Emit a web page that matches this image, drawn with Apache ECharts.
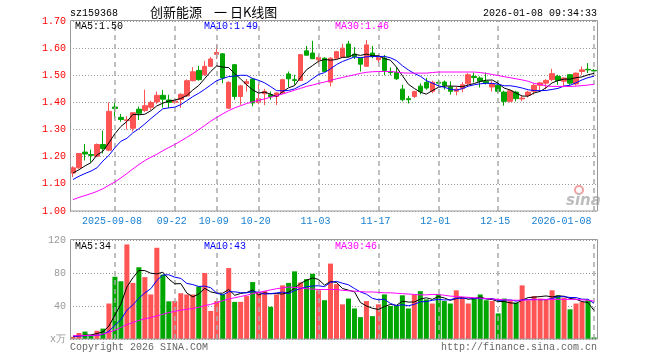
<!DOCTYPE html>
<html><head><meta charset="utf-8">
<script src="https://cdn.jsdelivr.net/npm/echarts@6/dist/echarts.min.js"></script>
<style>html,body{margin:0;padding:0;background:#fff}#c{width:660px;height:360px}</style>
</head><body><div id="c"></div>
<script>
const dates = ['2025-08-28','2025-08-29',
'2025-09-01','2025-09-02','2025-09-03','2025-09-04','2025-09-05','2025-09-08','2025-09-09','2025-09-10','2025-09-11','2025-09-12',
'2025-09-15','2025-09-16','2025-09-17','2025-09-18','2025-09-19','2025-09-22','2025-09-23','2025-09-24','2025-09-25','2025-09-26','2025-09-29','2025-09-30',
'2025-10-09','2025-10-10','2025-10-13','2025-10-14','2025-10-15','2025-10-16','2025-10-17','2025-10-20','2025-10-21','2025-10-22','2025-10-23','2025-10-24',
'2025-10-27','2025-10-28','2025-10-29','2025-10-30','2025-10-31',
'2025-11-03','2025-11-04','2025-11-05','2025-11-06','2025-11-07','2025-11-10','2025-11-11','2025-11-12','2025-11-13','2025-11-14',
'2025-11-17','2025-11-18','2025-11-19','2025-11-20','2025-11-21','2025-11-24','2025-11-25','2025-11-26','2025-11-27','2025-11-28',
'2025-12-01','2025-12-02','2025-12-03','2025-12-04','2025-12-05','2025-12-08','2025-12-09','2025-12-10','2025-12-11','2025-12-12',
'2025-12-15','2025-12-16','2025-12-17','2025-12-18','2025-12-19','2025-12-22','2025-12-23','2025-12-24','2025-12-25','2025-12-26',
'2025-12-29','2025-12-30','2025-12-31','2026-01-05','2026-01-06','2026-01-07','2026-01-08'];

const open = [1.140,1.159,1.217,1.208,1.202,1.245,1.224,1.383,1.345,1.333,
1.305,1.375,1.370,1.382,1.402,1.426,1.409,1.400,1.411,1.424,
1.480,1.518,1.502,1.533,1.577,1.579,1.379,1.539,1.422,1.469,
1.486,1.400,1.432,1.428,1.422,1.435,1.505,1.484,1.481,1.590,
1.582,1.557,1.563,1.475,1.563,1.567,1.615,1.578,1.563,1.533,
1.582,1.557,1.563,1.514,1.510,1.449,1.414,1.422,1.460,1.474,
1.441,1.474,1.475,1.457,1.441,1.451,1.469,1.496,1.490,1.478,
1.457,1.463,1.438,1.404,1.438,1.413,1.426,1.441,1.463,1.471,
1.484,1.496,1.478,1.502,1.468,1.514,1.522,1.518];
const close = [1.159,1.212,1.210,1.205,1.245,1.230,1.367,1.378,1.337,1.336,
1.362,1.360,1.388,1.400,1.426,1.412,1.400,1.405,1.430,1.480,
1.513,1.484,1.533,1.560,1.584,1.490,1.474,1.422,1.461,1.477,
1.398,1.414,1.441,1.422,1.435,1.484,1.487,1.481,1.576,1.574,
1.561,1.566,1.514,1.563,1.587,1.600,1.569,1.569,1.541,1.612,
1.569,1.569,1.518,1.510,1.487,1.410,1.410,1.440,1.440,1.453,
1.474,1.471,1.463,1.441,1.449,1.465,1.502,1.492,1.478,1.472,
1.469,1.441,1.404,1.443,1.414,1.416,1.438,1.463,1.472,1.481,
1.506,1.481,1.490,1.471,1.508,1.520,1.520,1.516];
const high = [1.165,1.213,1.247,1.226,1.249,1.296,1.400,1.400,1.358,1.350,
1.365,1.385,1.447,1.406,1.440,1.446,1.428,1.410,1.434,1.485,
1.530,1.535,1.553,1.567,1.612,1.582,1.478,1.541,1.465,1.486,
1.490,1.470,1.450,1.440,1.437,1.487,1.514,1.502,1.578,1.608,
1.627,1.575,1.566,1.566,1.590,1.616,1.627,1.604,1.566,1.630,
1.608,1.575,1.575,1.529,1.530,1.465,1.424,1.443,1.470,1.490,
1.480,1.484,1.481,1.478,1.457,1.474,1.508,1.510,1.496,1.510,
1.478,1.481,1.443,1.447,1.443,1.425,1.443,1.469,1.476,1.486,
1.524,1.502,1.492,1.505,1.510,1.533,1.545,1.523];
const low = [1.125,1.156,1.186,1.180,1.198,1.212,1.220,1.340,1.329,1.300,
1.293,1.335,1.365,1.372,1.394,1.381,1.380,1.395,1.380,1.420,
1.478,1.480,1.498,1.531,1.560,1.471,1.376,1.410,1.391,1.440,
1.386,1.393,1.390,1.410,1.390,1.431,1.457,1.465,1.480,1.573,
1.560,1.541,1.512,1.459,1.560,1.566,1.567,1.560,1.514,1.531,
1.563,1.545,1.500,1.500,1.483,1.404,1.396,1.416,1.430,1.447,
1.434,1.459,1.447,1.429,1.426,1.438,1.460,1.474,1.455,1.466,
1.440,1.435,1.388,1.400,1.404,1.404,1.418,1.429,1.441,1.450,
1.478,1.465,1.459,1.465,1.462,1.502,1.508,1.507];
const volume = [2.5,7.3,9,4,10,12.6,43,75.5,70,114.6,
68,87,75,54,110.6,78,45.7,46,55.5,54,
54,63.6,80,34,46,54,86,45,45,52,
69,56,58,39,54,65,68,82,68.5,72.6,
79,59,47,91.4,66.5,42,49,37,26.5,46,
27.7,42,54,40,40,53,37,54,58,48,
43,54,46,43,59,50,43,49,54,47,
46,31,49,46,44,65,47,52,49,48,
59,53,50,36,43,45,47,2];

const priceMA5Head = [1.140,1.152,1.166,1.178];
const priceMA10Head = [1.116,1.128,1.138,1.147,1.159,1.184,1.205,1.233,1.257];
const priceMA30 = [1.042,1.050,1.057,1.064,1.072,1.082,1.095,1.107,1.122,1.138,
1.155,1.171,1.186,1.198,1.209,1.222,1.234,1.245,1.258,1.271,
1.285,1.300,1.315,1.331,1.345,1.358,1.370,1.380,1.388,1.396,
1.402,1.408,1.413,1.419,1.425,1.431,1.438,1.445,1.452,1.459,
1.464,1.470,1.475,1.481,1.487,1.492,1.497,1.502,1.507,1.511,
1.513,1.514,1.514,1.514,1.512,1.509,1.508,1.508,1.508,1.508,
1.510,1.512,1.512,1.512,1.512,1.512,1.512,1.512,1.510,1.507,
1.503,1.499,1.495,1.491,1.487,1.483,1.478,1.470,1.467,1.461,
1.459,1.459,1.459,1.459,1.460,1.462,1.464,1.467];
const volMA5Head = [3.3,4,4.5,5];
const volMA10Head = [3.2,3.5,4,4,4.5,5.5,9.5,16.5,23.5];
const volMA30 = [4,4,4.2,4.3,4.5,6,8,10.5,14,17.5,
20,22.5,24.5,26,28,30,32,33.5,35,36,
37,38.5,40.5,42,44,46.5,48.5,50,51.5,53,
55,56.5,58,59.5,61,62,63,62.5,62,61,
60.5,60,60,60,60,59,58.5,58,57.5,57,
57,56.5,56,56,55.5,55,54.5,54,53.5,53.5,
54,54,53,52,51.5,51,50.5,50,49.5,49,
48.5,48,47.5,47,47,47,47.5,47.5,48,48,
48,48,48,48,48,47.5,47,46];

const tickDates = ['2025-09-08','2025-09-22','2025-10-09','2025-10-20','2025-11-03','2025-11-17','2025-12-01','2025-12-15','2026-01-08'];
const tickLabels = ['2025-09-08','09-22','10-09','10-20','11-03','11-17','12-01','12-15','2026-01-08'];
const priceAxis = {min: 1.00, max: 1.70, interval: 0.10};
const volAxis = {min: 0, max: 120, interval: 40};
const legendPrice = ['MA5:1.50','MA10:1.49','MA30:1.46'];
const legendVol = ['MA5:34','MA10:43','MA30:46'];

function movingAvg(vals, n, head) {
  return vals.map((v, i) => {
    if (i < n - 1) return head[i];
    let s = 0; for (let k = i - n + 1; k <= i; k++) s += vals[k];
    return +(s / n).toFixed(4);
  });
}

const RED = '#ff5454', GREEN = '#00a600';
const MONO = '"Liberation Mono", "DejaVu Sans Mono", monospace';
const kData = open.map((o, i) => [o, close[i], low[i], high[i]]);
const volData = volume.map((v, i) => ({value: v, itemStyle: {color: close[i] >= open[i] ? RED : GREEN}}));
const isTick = (idx, val) => tickDates.indexOf(val) >= 0;

const dashStyle = {color: '#aaaaaa', width: 1.5, type: [5, 4]};
const splitH = {show: true, lineStyle: {color: '#999999', width: 1, type: [1, 2]}};
const makeDateLines = () => ({silent: true, symbol: ['none', 'none'], label: {show: false}, lineStyle: dashStyle,
  emphasis: {disabled: true}, animation: false, data: tickDates.map(d => ({xAxis: d}))});

const chart = echarts.init(document.getElementById('c'), null, {renderer: 'canvas'});
chart.setOption({
  animation: false,
  backgroundColor: '#fff',
  grid: [
    {left: 70, right: 63, top: 21, height: 190},
    {left: 70, right: 63, top: 240, height: 99}
  ],
  xAxis: [
    {type: 'category', gridIndex: 0, data: dates, boundaryGap: true,
     axisLine: {show: false}, axisTick: {show: false}, splitLine: {show: false},
     axisLabel: {show: true, interval: isTick, margin: 5, color: '#1a80d0', fontFamily: MONO, fontSize: 10,
       formatter: (val) => {
         const k = tickDates.indexOf(val);
         return (k === tickDates.length - 1 ? '{r|' : '{c|') + tickLabels[k] + '}';
       },
       rich: {
         c: {padding: [0, 6, 0, 0], color: '#1a80d0', fontFamily: MONO, fontSize: 10},
         r: {padding: [0, 65, 0, 0], color: '#1a80d0', fontFamily: MONO, fontSize: 10}
       }}},
    {type: 'category', gridIndex: 1, data: dates, boundaryGap: true,
     axisLine: {show: false}, axisTick: {show: false}, axisLabel: {show: false},
     splitLine: {show: false}}
  ],
  yAxis: [
    {type: 'value', gridIndex: 0, min: priceAxis.min, max: priceAxis.max, interval: priceAxis.interval,
     axisLine: {show: false}, axisTick: {show: false}, splitLine: splitH,
     axisLabel: {color: '#ff0000', fontFamily: MONO, fontSize: 10, margin: 4, formatter: v => v.toFixed(2)}},
    {type: 'value', gridIndex: 1, min: volAxis.min, max: volAxis.max, interval: volAxis.interval,
     axisLine: {show: false}, axisTick: {show: false}, splitLine: splitH,
     axisLabel: {color: '#999999', fontFamily: MONO, fontSize: 10, margin: 4,
       formatter: v => v === 0 ? 'x万' : String(v)}}
  ],
  series: [
    {type: 'line', xAxisIndex: 0, yAxisIndex: 0, data: [], z: 1, markLine: makeDateLines()},
    {type: 'candlestick', xAxisIndex: 0, yAxisIndex: 0, data: kData, barWidth: 5, z: 2,
     itemStyle: {color: RED, color0: GREEN, borderColor: RED, borderColor0: GREEN, borderWidth: 1}},
    {type: 'line', xAxisIndex: 0, yAxisIndex: 0, data: movingAvg(close, 5, priceMA5Head), showSymbol: false,
     lineStyle: {color: '#000000', width: 1}, z: 5},
    {type: 'line', xAxisIndex: 0, yAxisIndex: 0, data: movingAvg(close, 10, priceMA10Head), showSymbol: false,
     lineStyle: {color: '#0000ff', width: 1}, z: 5},
    {type: 'line', xAxisIndex: 0, yAxisIndex: 0, data: priceMA30, showSymbol: false,
     lineStyle: {color: '#ff00ff', width: 1}, z: 5},
    {type: 'line', xAxisIndex: 1, yAxisIndex: 1, data: [], z: 1, markLine: makeDateLines()},
    {type: 'bar', xAxisIndex: 1, yAxisIndex: 1, data: volData, barWidth: 5, z: 2},
    {type: 'line', xAxisIndex: 1, yAxisIndex: 1, data: movingAvg(volume, 5, volMA5Head), showSymbol: false,
     lineStyle: {color: '#000000', width: 1}, z: 5},
    {type: 'line', xAxisIndex: 1, yAxisIndex: 1, data: movingAvg(volume, 10, volMA10Head), showSymbol: false,
     lineStyle: {color: '#0000ff', width: 1}, z: 5},
    {type: 'line', xAxisIndex: 1, yAxisIndex: 1, data: volMA30, showSymbol: false,
     lineStyle: {color: '#ff00ff', width: 1}, z: 5}
  ],
  graphic: [
    {type: 'rect', z: 100, shape: {x: 70.5, y: 20.5, width: 527, height: 190.5}, style: {fill: 'none', stroke: '#999999', lineWidth: 1}},
    {type: 'rect', z: 100, shape: {x: 70.5, y: 239.5, width: 527, height: 99.5}, style: {fill: 'none', stroke: '#999999', lineWidth: 1}},
    {type: 'text', z: 100, style: {text: 'sz159368', x: 70, y: 13, fill: '#000', font: '10px ' + MONO, textVerticalAlign: 'middle'}},
    {type: 'text', z: 100, style: {text: '创新能源', x: 150, y: 12, fill: '#000', font: '13px "Noto Sans CJK SC"', textVerticalAlign: 'middle'}},
    {type: 'text', z: 100, style: {text: '一 日K线图', x: 214, y: 12, fill: '#000', font: '13px "Noto Sans CJK SC"', textVerticalAlign: 'middle'}},
    {type: 'text', z: 100, style: {text: '2026-01-08 09:34:33', x: 597, y: 13, fill: '#000', font: '10px ' + MONO, textAlign: 'right', textVerticalAlign: 'middle'}},
    {type: 'text', z: 100, style: {text: legendPrice[0], x: 75, y: 26, fill: '#000', font: '10px ' + MONO, textVerticalAlign: 'middle'}},
    {type: 'text', z: 100, style: {text: legendPrice[1], x: 204, y: 26, fill: '#0000ff', font: '10px ' + MONO, textVerticalAlign: 'middle'}},
    {type: 'text', z: 100, style: {text: legendPrice[2], x: 335, y: 26, fill: '#ff00ff', font: '10px ' + MONO, textVerticalAlign: 'middle'}},
    {type: 'text', z: 100, style: {text: legendVol[0], x: 75, y: 246, fill: '#000', font: '10px ' + MONO, textVerticalAlign: 'middle'}},
    {type: 'text', z: 100, style: {text: legendVol[1], x: 204, y: 246, fill: '#0000ff', font: '10px ' + MONO, textVerticalAlign: 'middle'}},
    {type: 'text', z: 100, style: {text: legendVol[2], x: 335, y: 246, fill: '#ff00ff', font: '10px ' + MONO, textVerticalAlign: 'middle'}},
    {type: 'text', z: 100, style: {text: 'Copyright 2026 SINA.COM', x: 70, y: 347, fill: '#666', font: '10px ' + MONO, textVerticalAlign: 'middle'}},
    {type: 'text', z: 100, style: {text: 'http://finance.sina.com.cn', x: 597, y: 347, fill: '#666', font: '10px ' + MONO, textAlign: 'right', textVerticalAlign: 'middle'}},
    {type: 'circle', z: 90, shape: {cx: 579, cy: 190, r: 4}, style: {fill: 'none', stroke: '#f2a0a0', lineWidth: 2}},
    {type: 'text', z: 90, style: {text: 'sina', x: 566, y: 201, fill: '#bdbdbd', font: 'italic bold 15px "DejaVu Sans"', textVerticalAlign: 'middle'}}
  ]
});
</script></body></html>
